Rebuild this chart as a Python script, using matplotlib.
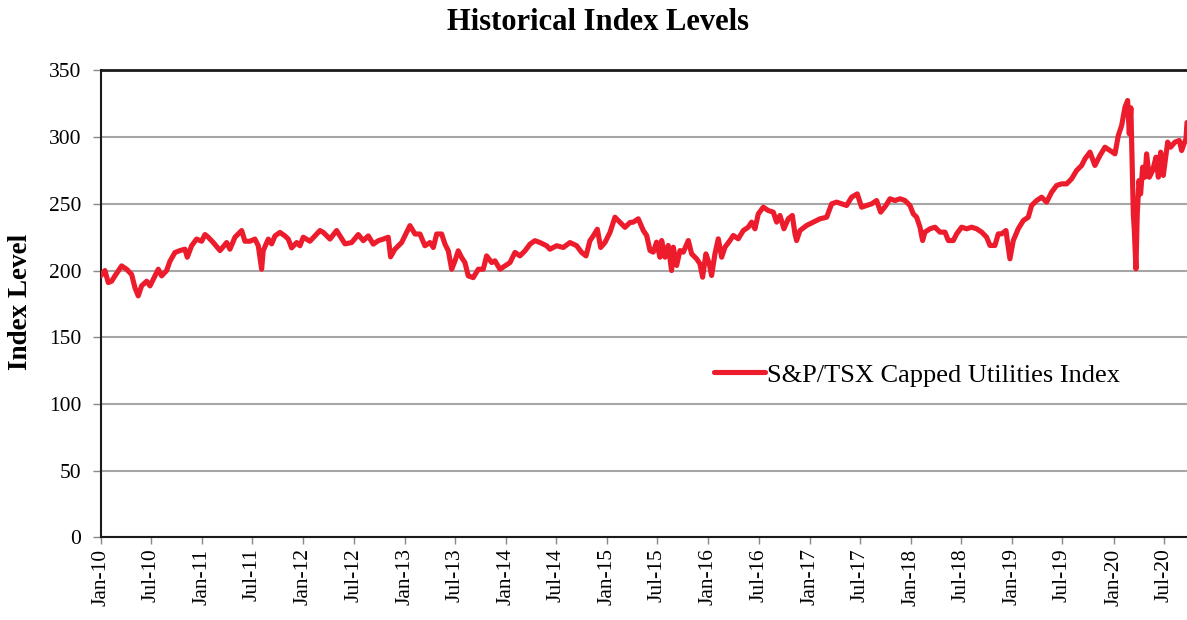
import matplotlib
matplotlib.use("Agg")
import matplotlib.pyplot as plt
import matplotlib.dates as mdates
import pandas as pd
import numpy as np

# Decimal-year positions and index levels
years = [
    2010.000, 2010.042, 2010.075, 2010.108, 2010.141, 2010.207, 2010.256, 2010.306, 2010.339, 2010.371,
    2010.404, 2010.454, 2010.487, 2010.520, 2010.569, 2010.602, 2010.651, 2010.684, 2010.733, 2010.783,
    2010.832, 2010.855, 2010.898, 2010.947, 2010.997, 2011.030, 2011.062, 2011.112, 2011.178, 2011.244,
    2011.276, 2011.326, 2011.392, 2011.424, 2011.474, 2011.523, 2011.556, 2011.589, 2011.605, 2011.655,
    2011.688, 2011.721, 2011.770, 2011.819, 2011.852, 2011.885, 2011.935, 2011.967, 2012.000, 2012.066,
    2012.116, 2012.165, 2012.198, 2012.264, 2012.329, 2012.362, 2012.412, 2012.478, 2012.543,
    2012.593, 2012.642, 2012.691, 2012.741, 2012.790, 2012.839, 2012.862, 2012.905, 2012.971, 2013.053,
    2013.103, 2013.152, 2013.201, 2013.251, 2013.284, 2013.317, 2013.366, 2013.399, 2013.432, 2013.465,
    2013.498, 2013.530, 2013.563, 2013.596, 2013.629, 2013.678, 2013.728, 2013.777, 2013.810, 2013.860,
    2013.892, 2013.942, 2013.991, 2014.041, 2014.090, 2014.139, 2014.189, 2014.238, 2014.287, 2014.337,
    2014.402, 2014.435, 2014.501, 2014.567, 2014.633, 2014.699, 2014.748, 2014.791, 2014.830, 2014.863,
    2014.903, 2014.936, 2014.978, 2015.028, 2015.077, 2015.126, 2015.176,
    2015.225, 2015.258, 2015.307, 2015.357, 2015.390, 2015.423, 2015.455, 2015.488, 2015.521, 2015.538,
    2015.571, 2015.603, 2015.636, 2015.653, 2015.686, 2015.719, 2015.752, 2015.801, 2015.834, 2015.883,
    2015.916, 2015.942, 2015.975, 2016.008, 2016.031, 2016.064, 2016.097, 2016.130, 2016.163, 2016.212,
    2016.245, 2016.294, 2016.344, 2016.393, 2016.426, 2016.459, 2016.492, 2016.541, 2016.591, 2016.640,
    2016.673, 2016.706, 2016.745, 2016.788, 2016.828, 2016.854, 2016.870, 2016.903, 2016.969, 2017.035,
    2017.101, 2017.167, 2017.216, 2017.265, 2017.315, 2017.364, 2017.413, 2017.469, 2017.512, 2017.561,
    2017.611, 2017.660, 2017.700, 2017.752, 2017.792, 2017.841, 2017.891, 2017.940,
    2017.989, 2018.022, 2018.055, 2018.088, 2018.114, 2018.137, 2018.187, 2018.236, 2018.285, 2018.335,
    2018.368, 2018.417, 2018.450, 2018.499, 2018.549, 2018.598, 2018.647, 2018.697, 2018.746, 2018.779,
    2018.828, 2018.861, 2018.894, 2018.937, 2018.950, 2018.976, 2019.009, 2019.058, 2019.108, 2019.157,
    2019.190, 2019.240, 2019.289, 2019.338, 2019.388, 2019.437, 2019.486, 2019.536, 2019.585, 2019.634,
    2019.684, 2019.717, 2019.766, 2019.815, 2019.865, 2019.914, 2019.963, 2020.013, 2020.046, 2020.079,
    2020.112, 2020.138, 2020.154, 2020.170, 2020.194, 2020.204, 2020.220, 2020.233, 2020.250, 2020.266,
    2020.286, 2020.309, 2020.325, 2020.352, 2020.385, 2020.418, 2020.441, 2020.464, 2020.490, 2020.513,
    2020.533, 2020.562, 2020.605, 2020.648, 2020.671, 2020.694, 2020.714, 2020.724,
]
levels = [
    196.0, 200.0, 191.0, 192.0, 196.0, 203.5, 201.0, 197.0, 187.0, 181.0,
    188.5, 192.0, 188.5, 193.5, 201.0, 196.0, 200.0, 207.0, 213.5, 215.0,
    216.0, 210.0, 218.6, 223.6, 222.0, 227.0, 225.0, 221.0, 215.0, 221.0,
    216.0, 225.0, 230.0, 222.0, 222.0, 223.6, 218.6, 201.0, 215.0, 223.6,
    220.0, 226.0, 228.6, 226.0, 223.6, 217.0, 221.0, 218.6, 225.0, 222.0,
    226.0, 230.0, 228.6, 223.6, 230.0, 226.0, 220.0, 221.0, 227.0,
    222.4, 226.0, 219.8, 222.4, 223.6, 225.0, 210.3, 216.0, 221.0, 233.7,
    227.4, 227.4, 218.6, 221.0, 217.3, 227.4, 227.4, 219.8, 214.8, 201.0,
    207.3, 214.8, 209.8, 206.0, 196.0, 194.7, 201.0, 201.0, 211.0, 206.0,
    207.3, 201.0, 203.5, 206.0, 213.6, 211.0, 214.8, 219.8, 222.4, 221.0,
    218.6, 216.0, 218.6, 217.3, 221.0, 218.6, 213.6, 211.0, 222.4, 226.0,
    231.0, 217.3, 221.0, 228.6, 240.0, 236.2, 232.4,
    236.0, 236.3, 238.8, 230.0, 226.3, 215.0, 213.8, 221.3, 210.0, 222.5,
    210.0, 218.8, 200.0, 217.5, 203.8, 215.0, 213.8, 222.5, 212.5, 208.8,
    205.0, 195.0, 212.5, 205.0, 196.3, 212.5, 223.8, 210.0, 217.5, 222.5,
    226.3, 223.8, 230.0, 232.5, 236.3, 231.3, 242.5, 247.5, 245.0, 243.8,
    236.3, 241.3, 231.3, 238.8, 241.3, 227.5, 222.5, 230.0, 233.8, 236.3,
    238.8, 240.0, 250.0, 251.3, 250.0, 248.8, 255.0, 257.5, 247.5, 248.8,
    250.0, 252.5, 243.8, 248.8, 253.8, 252.5, 253.8, 252.5,
    248.8, 242.5, 240.0, 232.5, 222.5, 228.8, 231.3, 232.5, 228.8, 228.8,
    222.5, 222.5, 227.5, 232.5, 231.3, 232.5, 231.3, 228.8, 225.0, 218.8,
    218.8, 227.5, 227.5, 230.0, 222.5, 208.8, 222.5, 231.3, 237.5, 240.0,
    248.8, 252.5, 255.0, 251.3, 258.8, 263.8, 265.0, 265.0, 268.8, 275.0,
    278.8, 283.8, 288.8, 278.8, 286.3, 292.5, 290.0, 287.5, 301.3, 308.8,
    322.5, 327.5, 302.5, 322.0, 242.5, 230.0, 201.3, 242.5, 267.5, 257.5,
    277.5, 270.0, 287.5, 270.0, 275.0, 285.0, 270.0, 288.8, 271.3, 285.0,
    296.3, 292.5, 296.3, 297.5, 290.0, 295.0, 298.8, 311.0,
]
series_name = "S&P/TSX Capped Utilities Index"
title_text = "Historical Index Levels"
ylabel_text = "Index Level"
yticks = [0, 50, 100, 150, 200, 250, 300, 350]

base = pd.Timestamp("2010-01-01")
dates = [base + pd.Timedelta(days=(y - 2010.0) * 365.25) for y in years]

serif = ["Liberation Serif", "DejaVu Serif"]
plt.rcParams["font.family"] = serif

fig = plt.figure(figsize=(11.87, 6.20), dpi=100)
ax = fig.add_axes([0.0848, 0.1334, 0.9152, 0.7529])

red = "#EC1C2D"
ax.plot(dates, levels, color=red, lw=3.7, solid_joinstyle="round",
        solid_capstyle="round", label=series_name, zorder=3)

ax.set_ylim(0, 350)
ax.set_yticks(yticks)
ax.set_xlim(dates[0], dates[-1])

tick_dates = []
for yr in range(2010, 2021):
    tick_dates.append(pd.Timestamp(f"{yr}-01-01"))
    tick_dates.append(pd.Timestamp(f"{yr}-07-01"))
ax.set_xticks(tick_dates)
ax.xaxis.set_major_formatter(mdates.DateFormatter("%b-%y"))
plt.setp(ax.get_xticklabels(), rotation=90, ha="center", va="top")

ax.grid(axis="y", color="#A6A6A6", lw=1.5, zorder=0)
ax.set_axisbelow(True)

for s in ["left", "bottom"]:
    ax.spines[s].set_color("#1a1a1a")
    ax.spines[s].set_linewidth(1.5)
ax.spines["top"].set_color("#1a1a1a")
ax.spines["top"].set_linewidth(2.0)
ax.spines["right"].set_visible(False)

ax.tick_params(axis="y", direction="out", length=6, width=1.0, color="#888888",
               labelsize=15.5, pad=8)
ax.tick_params(axis="x", direction="out", length=5, width=1.0, color="#888888",
               labelsize=15.5, pad=3)

fig.text(0.504, 0.963, title_text, ha="center", va="center", fontsize=22,
         fontweight="bold")
fig.text(0.017, 0.513, ylabel_text, ha="center", va="center", rotation=90,
         fontsize=19.5, fontweight="bold")

ax.legend(loc="center left", bbox_to_anchor=(0.565, 0.348), frameon=False,
          fontsize=19, handlelength=1.9, handletextpad=0.1, borderpad=0,
          borderaxespad=0)

fig.savefig("out.png", dpi=100)
